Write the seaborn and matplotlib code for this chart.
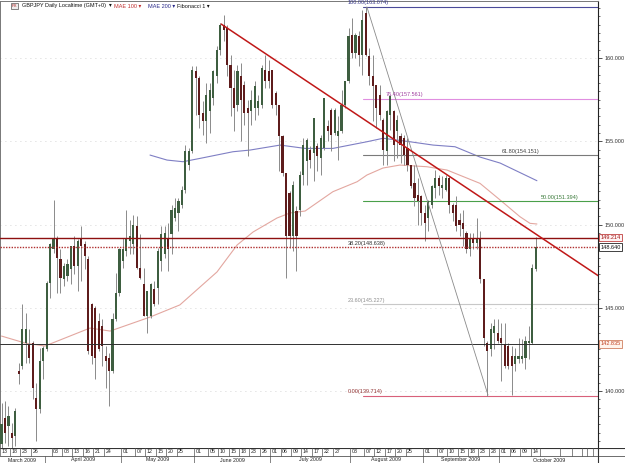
import numpy as np
import pandas as pd
import matplotlib
matplotlib.use("Agg")
import matplotlib.pyplot as plt
import seaborn as sns

# ---------------- data ----------------
opens = [136.8,138.4,137.9,137.5,137.3,141.2,141.5,142.9,142.8,142.9,139.6,138.9,141.8,142.5,146.5,148.5,149.2,147.9,146.7,146.9,
         147.3,148.7,147.5,149.2,148.8,147.9,145.2,145.0,144.2,143.9,142.1,142.0,141.2,144.3,145.9,147.8,148.4,149.0,148.8,149.9,
         147.4,146.4,144.5,144.5,146.1,146.2,147.8,148.2,149.2,149.4,150.4,150.7,151.2,152.1,153.6,154.4,159.2,158.8,156.7,156.2,
         156.8,157.6,158.9,160.5,162.0,161.8,159.6,158.2,157.2,158.9,158.4,157.0,156.8,157.0,157.0,157.2,159.3,159.2,159.3,157.9,
         157.2,155.3,153.1,151.9,149.3,150.8,150.9,153.0,153.8,154.5,154.3,154.7,154.0,154.6,155.9,156.9,155.5,155.3,155.6,157.2,
         158.6,161.4,160.3,161.3,160.2,162.7,160.1,158.9,158.4,157.8,156.3,154.4,156.6,156.8,155.6,155.3,155.2,154.6,153.6,152.5,
         151.8,151.7,150.7,150.4,151.2,152.2,152.8,152.2,152.1,152.8,151.2,151.2,150.3,150.1,149.5,148.5,149.2,148.9,149.2,146.7,
         142.9,142.5,143.5,143.5,143.2,142.8,142.7,142.1,141.6,141.9,141.9,142.0,142.9,142.9,147.3]
highs = [139.3,139.4,139.1,138.1,139.0,141.7,145.2,144.7,143.7,143.0,140.5,142.6,142.7,146.6,148.9,151.5,149.3,148.5,147.7,147.9,
         148.7,149.3,149.1,149.9,149.0,148.1,145.3,145.1,144.7,144.3,142.7,142.3,144.7,147.1,148.6,149.2,150.9,150.3,150.6,150.5,
         149.4,147.4,146.0,146.5,146.6,148.6,149.9,149.9,150.1,151.2,151.6,151.6,152.3,154.8,154.6,159.5,159.5,158.9,157.4,158.5,
         158.5,159.3,160.7,162.1,162.6,162.0,160.2,159.3,159.6,159.7,158.6,157.5,158.1,158.6,157.8,159.6,160.2,159.9,159.3,158.0,
         157.2,155.4,153.1,152.0,152.6,151.1,153.2,155.2,155.2,154.7,156.4,154.9,155.4,157.6,156.3,157.0,157.0,156.5,158.1,158.6,
         161.8,162.4,161.5,161.6,162.9,163.07,160.6,160.2,158.4,158.4,156.4,156.9,157.8,156.9,156.6,155.5,155.4,155.2,153.6,153.6,
         152.8,151.8,151.2,151.5,152.4,153.3,153.0,152.9,153.0,152.9,151.3,151.7,150.7,150.9,149.6,149.5,149.5,150.4,149.6,146.7,
         143.0,144.1,144.3,144.3,144.1,144.1,142.9,142.7,142.6,143.2,143.1,143.3,143.9,147.6,149.25]
lows = [136.6,136.9,136.7,136.6,136.7,140.4,141.3,141.7,141.7,139.5,137.0,138.7,140.7,142.4,145.6,148.3,145.9,145.9,146.3,146.6,
        146.4,147.0,146.0,146.6,147.3,142.2,141.6,140.7,142.4,141.5,140.2,139.1,141.1,144.2,145.7,147.4,148.1,148.2,148.2,147.3,
        146.7,144.5,143.5,144.4,145.1,145.2,147.2,148.0,147.2,148.2,150.2,149.6,151.0,151.9,153.3,154.3,156.6,155.8,155.4,154.9,
        155.5,157.2,158.5,160.2,161.0,158.9,156.5,155.6,156.8,155.0,156.0,154.1,156.0,156.3,156.6,157.0,158.2,158.2,157.0,156.6,
        153.2,152.9,146.8,148.6,148.4,147.2,150.5,152.4,152.4,153.4,152.6,153.2,153.0,154.5,155.0,154.4,155.4,153.9,155.5,157.0,
        158.5,160.0,160.0,159.5,159.0,160.1,158.4,156.2,155.8,156.3,153.6,153.6,155.7,153.8,154.0,153.7,153.6,153.2,152.2,151.1,
        150.0,150.0,149.0,149.6,151.0,151.6,151.8,151.6,152.0,150.7,150.2,149.6,149.3,148.7,148.3,148.1,148.5,148.5,146.5,142.7,
        139.71,142.1,142.5,142.9,140.6,141.4,141.3,139.75,141.2,141.7,141.7,141.3,141.9,142.8,147.2]
closes = [138.0,137.5,138.5,137.2,138.8,141.0,143.7,143.7,142.0,140.2,138.9,141.8,142.6,146.5,148.8,149.2,148.0,146.8,147.5,147.6,
          148.7,147.5,149.0,148.7,148.1,142.4,142.1,142.0,142.5,142.7,141.8,141.2,144.3,145.9,148.5,148.5,149.2,149.3,150.0,147.4,
          146.8,144.5,146.0,146.4,145.2,148.4,149.4,149.5,148.5,150.9,151.0,151.4,152.1,154.4,154.4,159.3,158.8,156.6,156.2,157.8,
          158.1,159.2,160.5,162.0,161.7,159.6,158.2,157.0,159.2,157.5,156.7,156.7,157.5,158.3,157.4,159.4,158.6,158.6,157.2,157.2,
          155.3,153.1,149.3,149.3,152.4,149.3,153.0,154.8,155.1,153.9,156.4,154.1,155.2,157.6,155.6,155.4,156.9,155.6,157.2,158.6,
          161.3,160.3,161.4,160.2,162.3,160.2,158.9,158.3,157.0,156.6,154.5,156.8,157.7,154.8,156.3,154.8,154.2,153.6,152.3,151.6,
          151.4,150.7,150.1,151.4,152.3,152.8,152.3,152.4,152.8,151.2,150.7,149.9,150.0,149.7,148.5,149.2,148.9,149.2,146.7,143.2,
          142.4,143.7,143.9,143.0,142.9,141.5,141.5,141.5,142.1,142.1,142.1,143.0,143.0,147.4,148.64]

ma100_idx = [0, 6.8, 12.5, 25.5, 31.3, 42.8, 51.4, 62.1, 67.9, 72.5, 79.4, 83.1, 87.5, 95.5, 102.5, 105.3, 109.9, 114.8,
             122.6, 128.4, 137.9, 143.7, 149.4, 152.3, 154.3]
ma100_val = [143.30, 142.88, 142.70, 143.78, 143.60, 144.44, 145.17, 147.15, 148.77, 149.55, 150.39, 150.69, 150.81, 151.97,
             152.57, 152.97, 153.39, 153.57, 153.47, 153.27, 152.47, 151.47, 150.47, 150.07, 150.03]
ma200_idx = [42.8, 47.7, 52.3, 57.2, 66.7, 71.6, 80.3, 87.5, 95.5, 105.3, 110.0, 117.7, 124.4, 130.7, 137.9, 143.7, 154.3]
ma200_val = [154.17, 153.87, 153.77, 153.97, 154.37, 154.47, 154.77, 154.57, 154.57, 154.97, 155.18, 154.97, 154.77,
             154.67, 154.05, 153.69, 152.63]

fib_levels = ["100.00", "76.40", "61.80", "50.00", "38.20", "23.60", "0.00"]
fib_prices = [163.074, 157.561, 154.151, 151.394, 148.638, 145.227, 139.714]
fib_colors = ["#4b4b9a", "#e08ee0", "#7a7a7a", "#4aa04a", "#e8b0b0", "#c8c8c8", "#d8607a"]
fib_label_colors = ["#3a3a8a", "#a040a0", "#404040", "#3a7a3a", "#303030", "#909090", "#903030"]

trend_idx = [63.3, 172.5]
trend_val = [162.04, 146.85]
fibdiag_idx = [105.3, 140.2]
fibdiag_val = [163.07, 139.76]

resist_price = 149.214
last_price = 148.640
support_price = 142.835

day_labels = ["2009-03-13", "2009-03-18", "2009-03-23", "2009-03-26", "2009-04-03", "2009-04-08", "2009-04-13",
              "2009-04-16", "2009-04-21", "2009-04-24", "2009-05-01", "2009-05-07", "2009-05-12", "2009-05-15",
              "2009-05-20", "2009-05-25", "2009-06-01", "2009-06-05", "2009-06-10", "2009-06-15", "2009-06-18",
              "2009-06-23", "2009-06-26", "2009-07-01", "2009-07-06", "2009-07-09", "2009-07-14", "2009-07-17",
              "2009-07-22", "2009-07-27", "2009-08-03", "2009-08-07", "2009-08-12", "2009-08-17", "2009-08-20",
              "2009-08-25", "2009-09-01", "2009-09-07", "2009-09-10", "2009-09-15", "2009-09-18", "2009-09-23",
              "2009-09-28", "2009-10-01", "2009-10-06", "2009-10-09", "2009-10-14"]
month_names = ["March 2009", "April 2009", "May 2009", "June 2009", "July 2009", "August 2009",
               "September 2009", "October 2009"]

# ---------------- figure ----------------
sns.set_theme(style="white")
plt.rcParams["font.family"] = ["Liberation Sans", "DejaVu Sans"]

W, H = 625, 463
fig = plt.figure(figsize=(W / 100, H / 100), dpi=100)
fig.patch.set_facecolor("white")

PX = 3.47      # pixels per candle
X0 = 1.5       # pixel of first candle
ax_right_px = 598
ax_top_px, ax_bot_px = 1, 448

def px2idx(px):
    return (px - X0) / PX

def py2price(py):
    return 160 - (py - 58) / 16.65

ax = fig.add_axes([0, (H - ax_bot_px) / H, ax_right_px / W, (ax_bot_px - ax_top_px) / H])
ax.set_xlim(px2idx(0), px2idx(ax_right_px))
ax.set_ylim(py2price(ax_bot_px), py2price(ax_top_px))
ax.set_facecolor("white")

n = len(closes)
idx = np.arange(n)
o = np.array(opens); h = np.array(highs); l = np.array(lows); c = np.array(closes)
up = c >= o
bull_col, bear_col = "#3e5e40", "#5e1c1c"

# grid (dotted)
for gy in range(140, 165, 5):
    ax.axhline(gy, color="#c8c8c8", lw=0.6, ls=(0, (1, 5)), zorder=0)

# moving averages
sns.lineplot(x=ma100_idx, y=ma100_val, ax=ax, color="#e3a7a0", lw=0.8, zorder=2)
sns.lineplot(x=ma200_idx, y=ma200_val, ax=ax, color="#7f7fc4", lw=0.8, zorder=2)

# candles
ax.vlines(idx, l, h, color="#8a8a8a", lw=0.7, zorder=3)
body_b = np.minimum(o, c)
body_h = np.maximum(np.abs(c - o), 0.08)
ax.bar(idx[up], body_h[up], bottom=body_b[up], width=0.62, color=bull_col, linewidth=0, zorder=4)
ax.bar(idx[~up], body_h[~up], bottom=body_b[~up], width=0.62, color=bear_col, linewidth=0, zorder=4)

# horizontal user lines
ax.axhline(resist_price, color="#8e1010", lw=1.0, zorder=5)
ax.axhline(last_price, color="#b03030", lw=1.0, ls=(0, (1, 1)), zorder=5)
ax.axhline(support_price, color="#303030", lw=0.7, zorder=5)

# fibonacci
fib_start = px2idx(363)
fib_lab_px = [348, 386, 502, 541, 348, 348, 348]
for lev, pr, col, lcol, lpx in zip(fib_levels, fib_prices, fib_colors, fib_label_colors, fib_lab_px):
    if lev != "38.20":
        ax.plot([fib_start, px2idx(ax_right_px)], [pr, pr], color=col, lw=0.8, zorder=2.5)
    ax.text(px2idx(lpx), pr + 0.08, f"{lev}({pr:.3f})", fontsize=4, color=lcol,
            ha="left", va="bottom", zorder=6)
sns.lineplot(x=fibdiag_idx, y=fibdiag_val, ax=ax, color="#8a8a8a", lw=0.6, zorder=5)

# trend line
sns.lineplot(x=trend_idx, y=trend_val, ax=ax, color="#c01818", lw=1.1, zorder=6)

# axis styling
ax.yaxis.tick_right()
ax.set_yticks(np.arange(140, 161, 5))
ax.set_yticklabels([f"{v:.3f}" for v in np.arange(140, 161, 5)], fontsize=4, color="#333333")
ax.set_yticks(np.arange(137, 163.5, 0.5), minor=True)
ax.tick_params(axis="y", which="major", length=3, width=0.6, color="#333333", pad=1.5, right=True, left=False)
ax.tick_params(axis="y", which="minor", length=1.5, width=0.5, color="#333333", right=True, left=False)
ax.set_xticks([])
for s in ["left", "top", "bottom"]:
    ax.spines[s].set_color("#777777"); ax.spines[s].set_linewidth(0.7)
ax.spines["right"].set_color("#222222"); ax.spines["right"].set_linewidth(0.8)
ax.set_xlabel(""); ax.set_ylabel("")

# price tags on right
tags = [(resist_price, "#a01010", "#c04040", "#fff4f4"),
        (last_price, "#111111", "#222222", "#ffffff"),
        (support_price, "#c04020", "#d08060", "#fff4ec")]
for pr, tc, ec, fc in tags:
    ax.text(1.004, pr, f"{pr:.3f}", transform=ax.get_yaxis_transform(), fontsize=4, color=tc,
            ha="left", va="center", zorder=7,
            bbox=dict(boxstyle="square,pad=0.25", fc=fc, ec=ec, lw=0.6), clip_on=False)

# header / legend
fig.text(12 / W, 1 - 6 / H, "FX", fontsize=3.2, color="#aa2222", ha="left", va="center",
         bbox=dict(boxstyle="square,pad=0.15", fc="#eeeeee", ec="#555555", lw=0.5))
hdr = [("GBPJPY Daily Localtime (GMT+0)  \u25be", 22, "#111111"),
       ("MAE 100 \u25be", 114, "#c03030"),
       ("MAE 200 \u25be", 148, "#2a2a8a"),
       ("Fibonacci 1 \u25be", 177, "#111111")]
for txt, xp, col in hdr:
    fig.text(xp / W, 1 - 6 / H, txt, fontsize=4, color=col, ha="left", va="center")

# ---------------- date axis ----------------
dates = pd.bdate_range("2009-03-12", periods=n)
ax2 = fig.add_axes([0, 0, 1, (H - ax_bot_px) / H])
ax2.set_xlim(px2idx(0), px2idx(W))
ax2.set_ylim(0, H - ax_bot_px)
ax2.axis("off")
ax2.axhline(H - ax_bot_px - 0.3, color="#333333", lw=0.8)
ax2.axhline(7, color="#555555", lw=0.6)
for d in day_labels:
    pos = dates.get_loc(pd.Timestamp(d)) - 1.55
    ax2.plot([pos, pos], [7, 15], color="#555555", lw=0.5)
    ax2.text(pos + 0.45, 11.3, pd.Timestamp(d).strftime("%d"), fontsize=3.8, color="#222222",
             ha="left", va="center")
future_px = [540, 560, 572, 582, 587, 593]
for fp in future_px:
    ax2.plot([px2idx(fp)] * 2, [7, 15], color="#555555", lw=0.5)
ax2.plot([px2idx(ax_right_px)] * 2, [0, 15], color="#333333", lw=0.8)
month_starts = [0] + [int(np.argmax(dates.month == m)) for m in range(4, 11)]
month_bounds = [px2idx(0)] + [ms - 1.55 for ms in month_starts[1:]] + [px2idx(ax_right_px)]
for i, name in enumerate(month_names):
    a, b = month_bounds[i], month_bounds[i + 1]
    if i > 0:
        ax2.plot([a, a], [0, 7], color="#555555", lw=0.5)
    ax2.text((a + b) / 2, 3.0, name, fontsize=3.8, color="#222222", ha="center", va="center")

fig.savefig("out.png", dpi=100, facecolor="white")
